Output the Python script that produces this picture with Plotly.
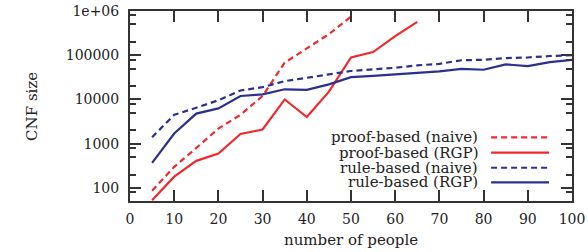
import plotly.graph_objects as go

people = [5, 10, 15, 20, 25, 30, 35, 40, 45, 50, 55, 60, 65, 70, 75, 80, 85, 90, 95, 100]

proof_naive = [87, 300, 800, 2200, 4500, 12000, 68000, 145000, 300000, 750000]
proof_rgp = [53, 180, 410, 600, 1660, 2100, 10000, 4000, 15000, 89000, 118000, 270000, 570000]
rule_naive = [1400, 4500, 6500, 9600, 16000, 19000, 26000, 31000, 37000, 44000,
              48000, 52000, 59000, 64000, 77000, 79000, 86000, 89000, 96000, 100000]
rule_rgp = [370, 1700, 4800, 6300, 12000, 13000, 17000, 16500, 22000, 32000,
            34000, 37000, 39000, 43000, 49000, 47000, 62000, 57000, 70000, 79000]

series_names = ["proof-based (naive)", "proof-based (RGP)", "rule-based (naive)", "rule-based (RGP)"]
x_ticks = [0, 10, 20, 30, 40, 50, 60, 70, 80, 90, 100]
y_ticks = [100, 1000, 10000, 100000, 1000000]
y_tick_labels = ["100", "1000", "10000", "100000", "1e+06"]

RED = "#ee2a2e"
BLUE = "#2b3090"
FONT = "DejaVu Serif"
TXT = "#222222"

series = [
    (series_names[0], proof_naive, RED, "6px,4px"),
    (series_names[1], proof_rgp, RED, "solid"),
    (series_names[2], rule_naive, BLUE, "6px,4px"),
    (series_names[3], rule_rgp, BLUE, "solid"),
]

fig = go.Figure()
for name, vals, col, dash in series:
    fig.add_trace(go.Scatter(
        x=people[:len(vals)], y=vals, mode="lines", name=name,
        line=dict(color=col, width=2.2, dash=dash), showlegend=False,
    ))

minor_vals = []
for d in [10, 100, 1000, 10000, 100000]:
    for m in (2, 5, 8):
        minor_vals.append(m * d)

axis_common = dict(
    showgrid=False, zeroline=False, showline=True, linecolor="#333333", linewidth=2,
    mirror="allticks", ticks="inside", tickcolor="#333333", tickwidth=2, ticklen=11,
    tickfont=dict(family=FONT, size=14, color=TXT), automargin=False,
)

fig.update_xaxes(
    range=[0, 100], tickmode="array", tickvals=x_ticks, ticktext=[str(v) for v in x_ticks],
    ticklabelstandoff=4,
    **axis_common,
)
fig.update_yaxes(
    type="log", range=[1.705, 6], tickmode="array", tickvals=y_ticks, ticktext=y_tick_labels,
    ticklabelstandoff=6,
    minor=dict(tickmode="array", tickvals=minor_vals, ticks="inside", ticklen=6,
               tickcolor="#333333", tickwidth=2, showgrid=False),
    **axis_common,
)

# axis titles
fig.add_annotation(xref="paper", yref="paper", x=0.5, y=-0.205, text="number of people",
                   showarrow=False, xanchor="center", yanchor="middle",
                   font=dict(family=FONT, size=15, color=TXT))
fig.add_annotation(xref="paper", yref="paper", x=-0.222, y=0.5, text="CNF size",
                   showarrow=False, xanchor="center", yanchor="middle", textangle=-90,
                   font=dict(family=FONT, size=15, color=TXT))

# custom legend (text left of line sample, as in the reference)
legend_rows = [0.335, 0.255, 0.175, 0.098]
for (name, vals, col, dash), yy in zip(series, legend_rows):
    fig.add_annotation(xref="paper", yref="paper", x=0.79, y=yy, text=name,
                       showarrow=False, xanchor="right", yanchor="middle", borderpad=0,
                       font=dict(family=FONT, size=15, color=TXT))
    fig.add_shape(type="line", xref="paper", yref="paper", x0=0.817, x1=0.948, y0=yy, y1=yy,
                  line=dict(color=col, width=2.2, dash=dash))

fig.update_layout(
    width=588, height=252,
    margin=dict(l=130, r=16, t=11, b=51),
    plot_bgcolor="white", paper_bgcolor="white",
    showlegend=False,
)

fig.write_html("out.html", config={"displayModeBar": False},
               post_script="document.body.style.margin='0';document.body.style.padding='0';")
